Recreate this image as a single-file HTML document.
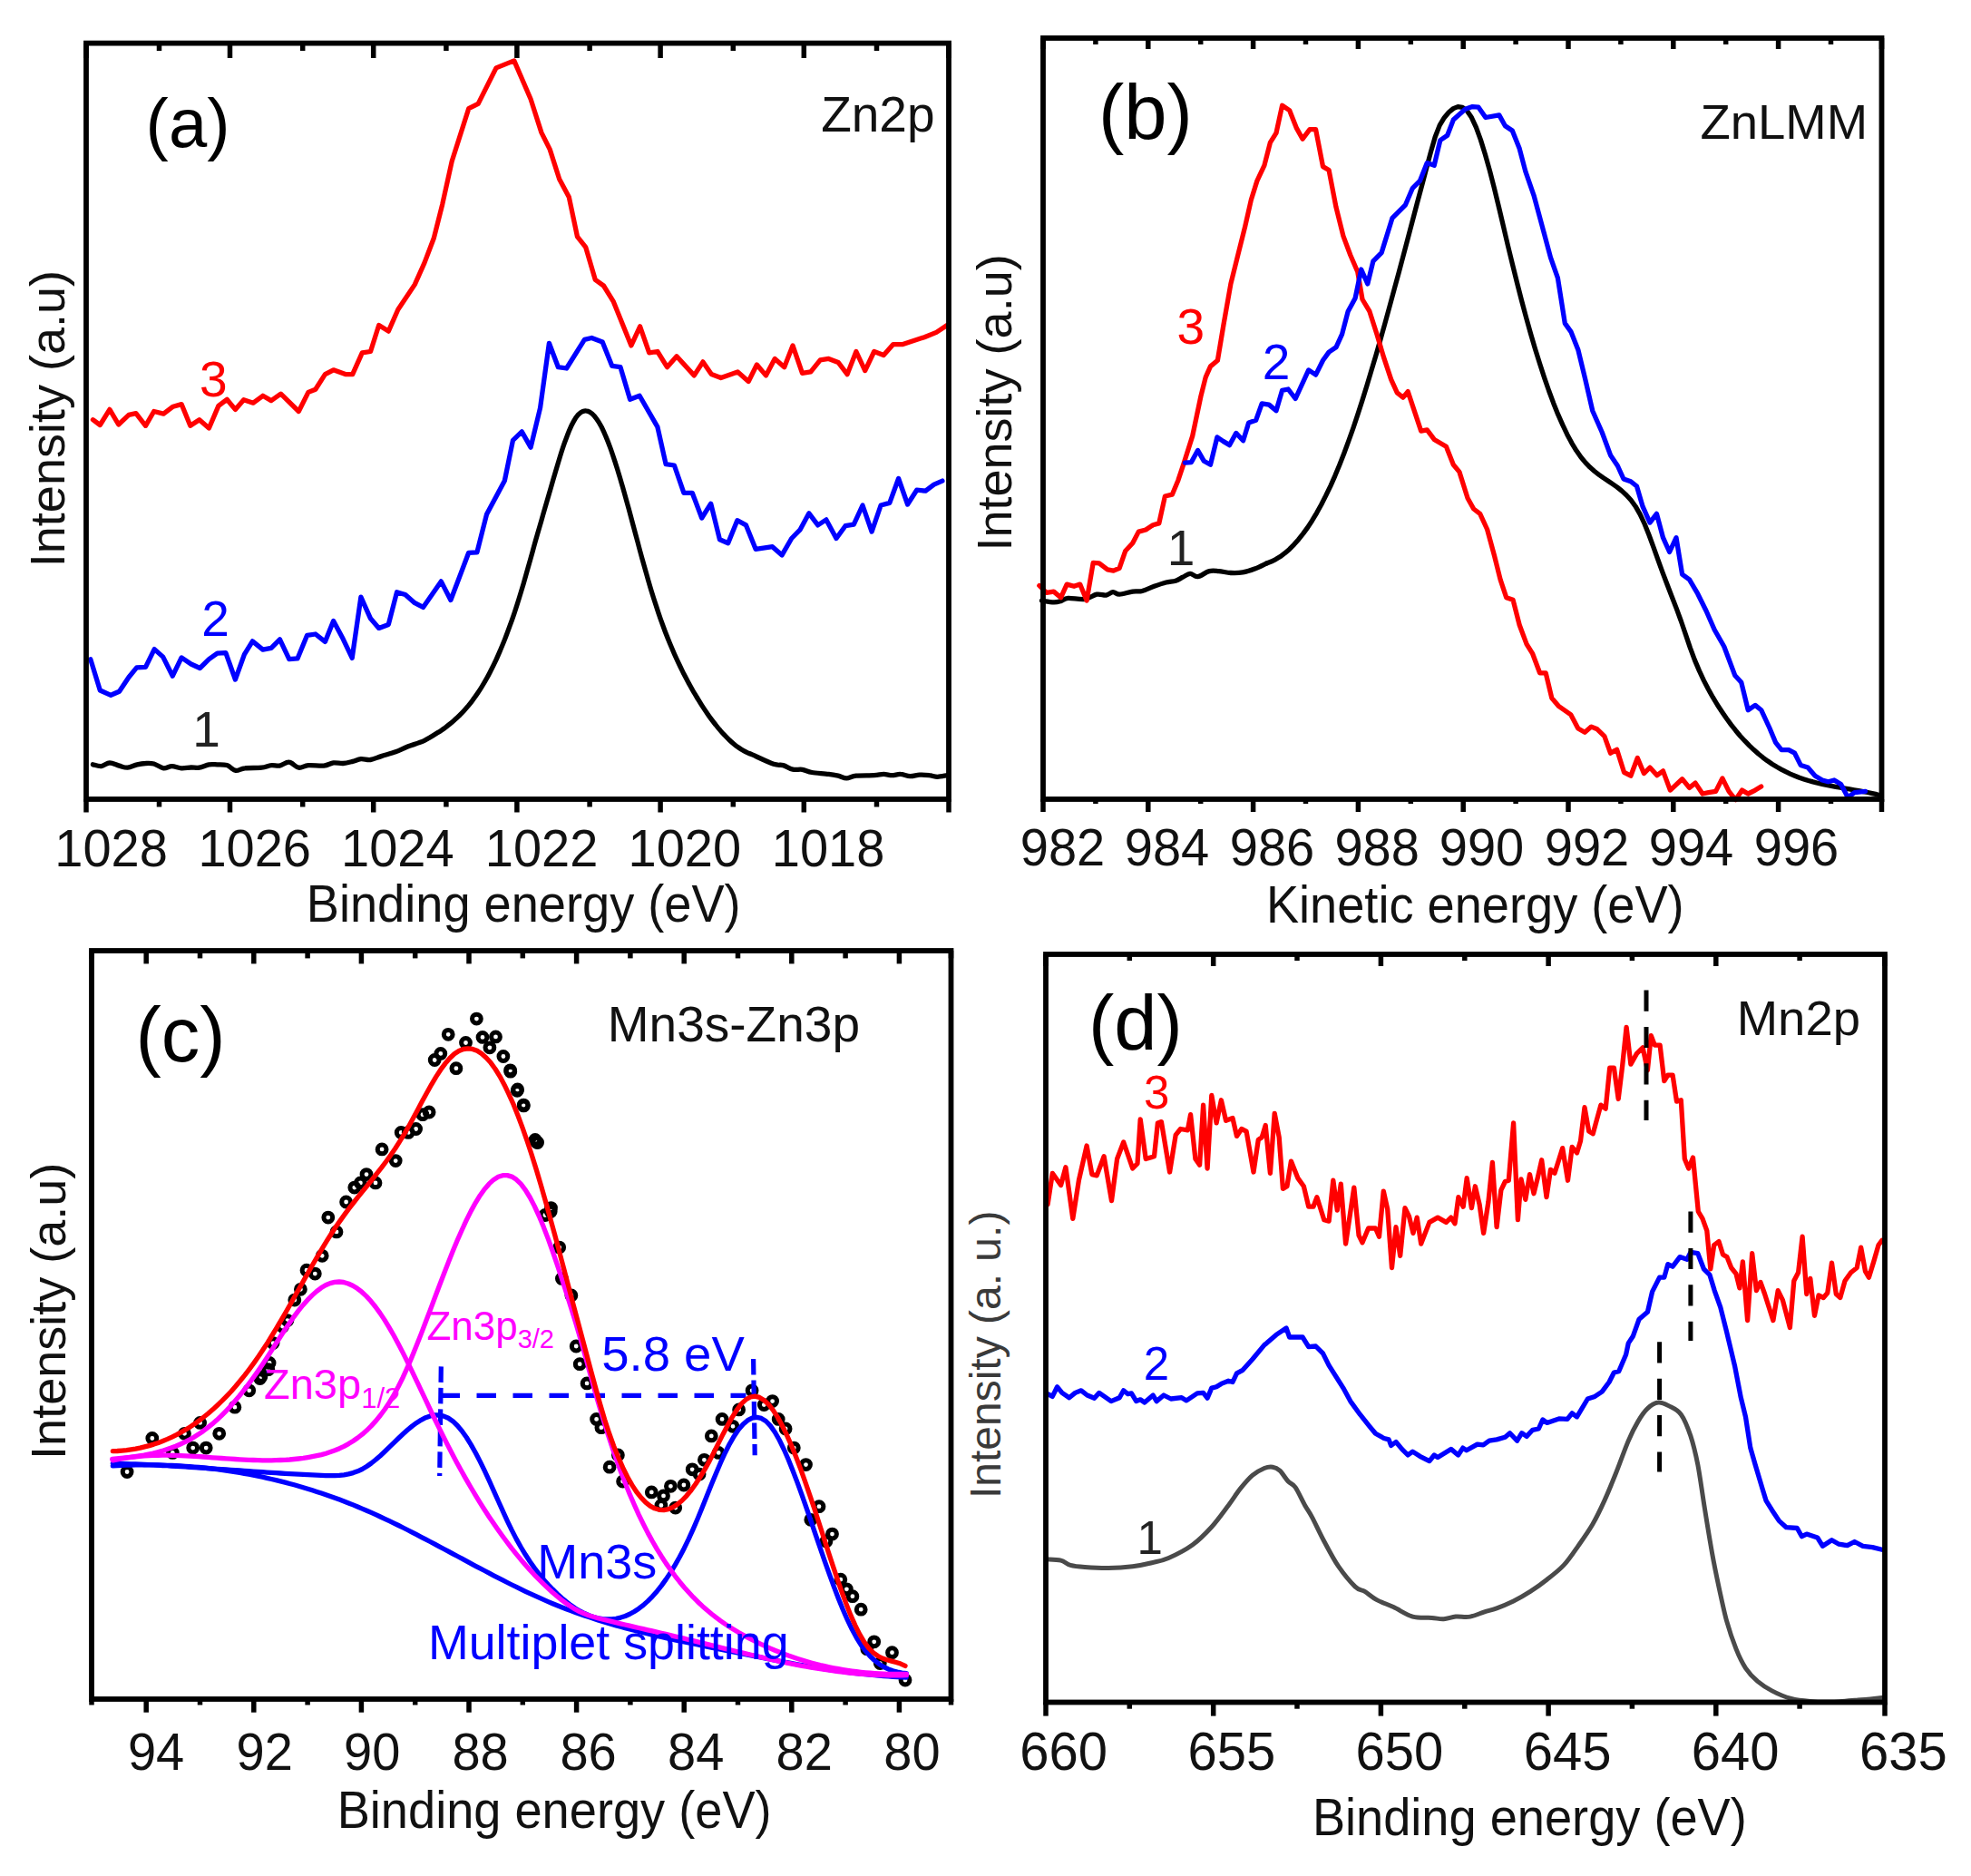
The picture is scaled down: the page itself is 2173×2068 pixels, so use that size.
<!DOCTYPE html>
<html lang="en"><head><meta charset="utf-8"><title>XPS spectra</title>
<style>
html,body{margin:0;padding:0;background:#fff;}
body{width:2173px;height:2068px;overflow:hidden;}
svg{display:block;}
</style></head><body>
<svg width="2173" height="2068" viewBox="0 0 2173 2068" font-family='"Liberation Sans", sans-serif'><rect width="2173" height="2068" fill="#fff"/><g id="pa">
<path d="M102.4,842.8C104.0,843.1 108.6,845.0 111.7,844.6C114.7,844.3 117.6,841.0 120.9,840.9C124.2,840.9 128.2,843.2 131.5,844.1C134.7,845.0 137.4,846.4 140.7,846.2C144.0,846.0 147.9,843.6 151.2,842.8C154.5,842.0 157.4,841.6 160.5,841.5C163.6,841.3 166.4,841.1 169.7,842.0C173.0,842.9 177.0,846.3 180.3,846.8C183.6,847.2 186.2,844.6 189.5,844.6C192.8,844.6 196.5,846.5 200.1,846.8C203.6,847.0 207.3,846.1 210.6,846.0C213.9,845.9 216.5,846.8 219.8,846.2C223.1,845.7 227.1,843.4 230.4,842.8C233.7,842.2 236.3,842.7 239.6,842.8C242.9,842.9 246.8,842.5 250.2,843.6C253.6,844.7 256.6,848.9 259.9,849.4C263.2,849.9 265.2,847.3 270.0,846.8C274.7,846.2 283.6,846.8 288.4,846.2C293.3,845.7 295.7,843.9 299.0,843.6C302.3,843.2 304.9,844.7 308.2,844.1C311.5,843.5 315.3,839.8 318.8,840.2C322.3,840.5 325.8,845.7 329.3,846.2C332.9,846.8 335.3,843.9 339.9,843.6C344.5,843.2 352.4,844.6 357.0,844.1C361.7,843.7 364.1,841.4 367.6,840.9C371.1,840.5 374.6,841.7 378.2,841.5C381.7,841.2 385.4,840.2 388.7,839.4C392.0,838.6 394.6,837.0 397.9,836.7C401.2,836.4 404.8,838.0 408.5,837.5C412.2,837.0 415.8,835.0 420.4,833.6C425.0,832.1 431.4,830.6 436.2,828.8C441.0,827.1 444.1,825.1 449.4,823.0C454.7,820.9 461.7,819.3 467.9,816.4C474.0,813.5 482.2,807.8 486.1,805.4C490.0,803.0 489.5,803.1 491.2,801.8C492.8,800.6 494.5,799.3 496.2,797.9C497.9,796.6 499.6,795.1 501.2,793.6C502.9,792.1 504.6,790.6 506.3,788.9C508.0,787.2 509.7,785.5 511.3,783.7C513.0,781.8 514.7,779.9 516.4,777.9C518.1,775.8 519.8,773.7 521.4,771.4C523.1,769.2 524.8,766.8 526.5,764.3C528.2,761.8 529.9,759.2 531.5,756.5C533.2,753.7 534.9,750.9 536.6,747.8C538.3,744.8 539.9,741.6 541.6,738.3C543.3,735.0 545.0,731.5 546.7,727.9C548.4,724.3 550.0,720.5 551.7,716.5C553.4,712.5 555.1,708.4 556.8,704.1C558.5,699.8 560.1,695.4 561.8,690.7C563.5,686.1 565.2,681.3 566.9,676.3C568.6,671.3 570.2,666.1 571.9,660.7C573.6,655.3 575.3,649.7 577.0,644.0C578.6,638.3 580.3,632.3 582.0,626.3C583.7,620.4 585.4,614.2 587.1,608.2C588.7,602.2 590.4,596.2 592.1,590.3C593.8,584.3 595.5,578.5 597.2,572.7C598.8,566.8 600.5,561.0 602.2,555.2C603.9,549.4 605.6,543.6 607.3,537.8C608.9,532.1 610.6,526.2 612.3,520.5C614.0,514.8 615.7,509.1 617.3,503.7C619.0,498.3 620.7,493.0 622.4,488.2C624.1,483.5 625.8,478.9 627.4,474.9C629.1,470.9 630.8,467.3 632.5,464.4C634.2,461.4 635.9,458.9 637.5,457.1C639.2,455.3 640.9,454.1 642.6,453.4C644.3,452.8 646.0,452.7 647.6,453.2C649.3,453.6 651.0,454.6 652.7,456.0C654.4,457.4 656.0,459.4 657.7,461.8C659.4,464.1 661.1,466.9 662.8,470.1C664.5,473.3 666.1,477.0 667.8,480.9C669.5,484.9 671.2,489.2 672.9,493.8C674.6,498.4 676.2,503.4 677.9,508.6C679.6,513.8 681.3,519.2 683.0,524.9C684.7,530.5 686.3,536.4 688.0,542.3C689.7,548.2 691.4,554.4 693.1,560.5C694.7,566.7 696.4,573.0 698.1,579.3C699.8,585.5 701.5,591.9 703.2,598.1C704.8,604.4 706.5,610.6 708.2,616.7C709.9,622.9 711.6,628.9 713.3,634.8C714.9,640.7 716.6,646.4 718.3,652.0C720.0,657.5 721.7,662.8 723.4,667.9C725.0,673.1 726.7,678.0 728.4,682.8C730.1,687.5 731.8,692.1 733.4,696.5C735.1,700.9 736.8,705.1 738.5,709.2C740.2,713.3 741.9,717.2 743.5,721.0C745.2,724.8 746.9,728.5 748.6,732.0C750.3,735.6 752.0,739.0 753.6,742.3C755.3,745.6 757.0,748.8 758.7,751.9C760.4,755.0 762.1,758.0 763.7,761.0C765.4,763.9 767.1,766.7 768.8,769.5C770.5,772.3 772.1,775.0 773.8,777.6C775.5,780.2 777.2,782.8 778.9,785.2C780.6,787.7 782.2,790.1 783.9,792.4C785.6,794.7 787.3,796.9 789.0,799.0C790.7,801.2 792.3,803.2 794.0,805.1C795.7,807.1 797.4,809.0 799.1,810.7C800.8,812.5 802.4,814.2 804.1,815.7C805.8,817.3 807.5,818.8 809.2,820.2C810.8,821.6 812.5,822.9 814.2,824.0C815.9,825.2 817.6,826.3 819.3,827.3C820.9,828.3 822.6,829.1 824.3,829.9C826.0,830.7 824.6,829.8 829.4,831.9C834.1,834.0 847.2,840.3 852.9,842.3C858.6,844.2 859.9,842.6 863.4,843.6C866.9,844.6 870.5,847.3 874.0,848.1C877.5,848.9 881.0,847.8 884.5,848.3C888.1,848.9 890.3,850.7 895.1,851.5C899.9,852.3 908.7,852.7 913.6,853.4C918.4,854.0 920.8,854.5 924.1,855.2C927.4,855.9 930.1,857.8 933.4,857.8C936.6,857.8 938.8,855.7 943.9,855.2C949.0,854.7 958.6,855.0 963.7,854.7C968.8,854.4 970.9,853.4 974.2,853.4C977.5,853.4 980.4,854.7 983.5,854.7C986.6,854.7 989.4,853.2 992.7,853.4C996.0,853.5 999.8,855.6 1003.3,855.7C1006.8,855.9 1010.3,854.3 1013.8,854.1C1017.3,854.0 1021.1,854.3 1024.4,854.7C1027.7,855.0 1030.3,856.3 1033.6,856.3C1036.9,856.3 1042.4,854.9 1044.2,854.7" fill="none" stroke="#000" stroke-width="5.3" stroke-linejoin="round" stroke-linecap="round" />
<polyline points="99.8,726.7 110.3,761.0 122.2,766.3 131.5,762.3 142.0,746.5 150.7,735.9 160.5,735.4 170.2,715.6 179.7,724.1 190.3,745.2 200.1,724.9 210.6,732.0 220.4,736.5 230.4,726.7 239.6,720.1 248.9,719.6 259.4,749.1 269.4,721.4 278.4,706.9 289.8,716.1 299.0,714.3 308.5,704.8 318.8,726.7 328.0,725.9 338.6,700.3 347.8,699.0 358.4,707.4 367.6,684.5 378.2,704.3 388.2,725.4 397.9,658.1 408.5,681.8 417.7,692.4 428.3,688.4 437.5,652.8 446.8,655.5 457.3,664.7 466.5,669.4 486.3,640.9 496.9,661.5 516.7,609.3 525.9,608.8 536.5,567.1 556.3,530.1 565.5,485.3 575.3,475.9 585.1,493.1 595.6,449.5 605.4,378.3 615.4,404.7 624.6,406.0 644.4,374.3 652.3,372.5 664.2,377.0 674.8,403.4 684.0,404.7 694.6,440.3 705.1,436.3 724.9,470.6 734.1,511.7 743.4,513.0 753.9,543.3 763.2,543.3 773.7,571.0 783.7,555.2 793.5,594.8 802.7,598.7 812.8,573.7 822.5,578.9 833.1,605.3 851.6,602.7 862.1,611.9 872.7,593.5 881.9,584.2 891.9,565.8 901.7,578.9 910.9,572.9 922.0,593.5 932.0,579.7 941.3,578.2 951.0,557.0 961.1,586.1 971.1,557.0 980.8,554.4 990.6,527.5 1000.6,556.0 1010.7,540.2 1020.4,541.2 1029.7,534.1 1038.9,530.1" fill="none" stroke="#0000ff" stroke-width="5.3" stroke-linejoin="round" stroke-linecap="round" />
<polyline points="102.4,462.7 110.3,468.5 120.9,451.4 130.7,468.0 142.0,457.4 149.9,455.6 160.5,469.3 169.7,453.5 180.3,456.1 190.8,448.2 200.1,445.6 209.8,469.3 219.8,462.7 230.4,472.0 240.9,447.4 250.2,440.3 259.4,451.4 268.7,440.8 279.2,444.2 289.8,436.3 299.0,441.6 309.6,434.2 329.3,453.5 339.9,432.4 347.8,429.2 358.4,412.6 367.6,407.8 380.8,412.6 388.7,412.6 399.3,388.8 408.5,387.5 417.7,358.5 428.3,365.1 438.8,341.3 457.3,313.6 467.9,289.9 478.4,262.2 487.7,225.3 498.2,177.8 516.7,119.7 527.2,114.4 547.0,74.9 566.8,66.9 585.1,109.2 596.9,146.1 606.2,164.6 616.7,197.5 627.3,217.3 636.5,260.9 645.8,272.7 656.3,308.4 665.5,315.0 676.1,332.1 695.9,380.9 705.6,359.8 715.7,388.8 724.9,387.5 735.5,404.7 746.0,392.8 765.3,413.9 775.0,398.9 784.3,412.6 794.8,416.5 813.3,409.9 825.2,420.5 834.4,402.0 844.4,413.9 854.2,395.4 864.7,404.7 874.0,380.9 884.5,411.3 893.8,409.9 904.3,396.8 913.6,395.4 924.1,399.4 934.1,412.6 943.9,387.5 953.7,408.6 963.7,387.5 974.2,391.5 984.8,379.6 995.4,379.6 1019.1,371.7 1032.3,366.4 1044.2,358.5" fill="none" stroke="#ff0000" stroke-width="5.3" stroke-linejoin="round" stroke-linecap="round" />
<rect x="95.0" y="47.6" width="951.0" height="833.4" fill="none" stroke="#000" stroke-width="5.8"/>
<line x1="95.0" y1="47.6" x2="95.0" y2="64.0" stroke="#000" stroke-width="5.5" /><line x1="95.0" y1="881.0" x2="95.0" y2="895.5" stroke="#000" stroke-width="5.5" /><line x1="253.5" y1="47.6" x2="253.5" y2="64.0" stroke="#000" stroke-width="5.5" /><line x1="253.5" y1="881.0" x2="253.5" y2="895.5" stroke="#000" stroke-width="5.5" /><line x1="411.7" y1="47.6" x2="411.7" y2="64.0" stroke="#000" stroke-width="5.5" /><line x1="411.7" y1="881.0" x2="411.7" y2="895.5" stroke="#000" stroke-width="5.5" /><line x1="569.9" y1="47.6" x2="569.9" y2="64.0" stroke="#000" stroke-width="5.5" /><line x1="569.9" y1="881.0" x2="569.9" y2="895.5" stroke="#000" stroke-width="5.5" /><line x1="728.1" y1="47.6" x2="728.1" y2="64.0" stroke="#000" stroke-width="5.5" /><line x1="728.1" y1="881.0" x2="728.1" y2="895.5" stroke="#000" stroke-width="5.5" /><line x1="886.3" y1="47.6" x2="886.3" y2="64.0" stroke="#000" stroke-width="5.5" /><line x1="886.3" y1="881.0" x2="886.3" y2="895.5" stroke="#000" stroke-width="5.5" /><line x1="1046.0" y1="47.6" x2="1046.0" y2="64.0" stroke="#000" stroke-width="5.5" /><line x1="1046.0" y1="881.0" x2="1046.0" y2="895.5" stroke="#000" stroke-width="5.5" /><line x1="175.5" y1="47.6" x2="175.5" y2="56.0" stroke="#000" stroke-width="5.5" /><line x1="175.5" y1="881.0" x2="175.5" y2="889.5" stroke="#000" stroke-width="5.5" /><line x1="333.7" y1="47.6" x2="333.7" y2="56.0" stroke="#000" stroke-width="5.5" /><line x1="333.7" y1="881.0" x2="333.7" y2="889.5" stroke="#000" stroke-width="5.5" /><line x1="491.9" y1="47.6" x2="491.9" y2="56.0" stroke="#000" stroke-width="5.5" /><line x1="491.9" y1="881.0" x2="491.9" y2="889.5" stroke="#000" stroke-width="5.5" /><line x1="650.1" y1="47.6" x2="650.1" y2="56.0" stroke="#000" stroke-width="5.5" /><line x1="650.1" y1="881.0" x2="650.1" y2="889.5" stroke="#000" stroke-width="5.5" /><line x1="808.3" y1="47.6" x2="808.3" y2="56.0" stroke="#000" stroke-width="5.5" /><line x1="808.3" y1="881.0" x2="808.3" y2="889.5" stroke="#000" stroke-width="5.5" /><line x1="966.5" y1="47.6" x2="966.5" y2="56.0" stroke="#000" stroke-width="5.5" /><line x1="966.5" y1="881.0" x2="966.5" y2="889.5" stroke="#000" stroke-width="5.5" />
<text transform="translate(60.3,954.8) scale(1,1.040)" font-size="56.0" fill="#111" >1028</text>
<text transform="translate(218.4,954.8) scale(1,1.040)" font-size="56.0" fill="#111" >1026</text>
<text transform="translate(376.0,954.8) scale(1,1.040)" font-size="56.0" fill="#111" >1024</text>
<text transform="translate(534.8,954.8) scale(1,1.040)" font-size="56.0" fill="#111" >1022</text>
<text transform="translate(692.5,954.8) scale(1,1.040)" font-size="56.0" fill="#111" >1020</text>
<text transform="translate(850.8,954.8) scale(1,1.040)" font-size="56.0" fill="#111" >1018</text>
<text transform="translate(337.8,1015.8) scale(1,1.060)" font-size="54.2" fill="#111" >Binding energy (eV)</text>
<text transform="translate(70.7,460.8) rotate(-90)" x="-164.4" y="0" font-size="54.0" fill="#111" >Intensity (a.u)</text>
<text x="160.6" y="161.5" font-size="76.0" fill="#000" >(a)</text>
<text x="905.2" y="144.5" font-size="55.0" fill="#111" >Zn2p</text>
<text x="219.9" y="437.2" font-size="55.0" fill="#ff0000" >3</text>
<text x="222.3" y="701.0" font-size="55.0" fill="#0000ff" >2</text>
<text x="212.3" y="822.5" font-size="55.0" fill="#222" >1</text>
</g>
<g id="pb">
<path d="M1148.5,662.1C1150.7,662.4 1158.1,663.8 1161.7,663.9C1165.2,664.0 1166.9,663.4 1169.6,662.6C1172.2,661.9 1173.1,659.8 1177.5,659.4C1181.9,659.1 1190.7,661.2 1196.0,660.5C1201.2,659.8 1205.2,656.0 1209.2,655.2C1213.1,654.5 1216.7,656.5 1219.7,656.0C1222.7,655.6 1224.7,652.7 1227.1,652.6C1229.5,652.5 1230.6,655.3 1234.2,655.2C1237.8,655.1 1244.6,652.7 1248.7,652.1C1252.9,651.4 1255.3,652.5 1259.3,651.5C1263.2,650.6 1268.1,647.8 1272.5,646.3C1276.9,644.7 1281.7,643.0 1285.7,642.0C1289.6,641.0 1293.1,641.2 1296.2,640.2C1299.3,639.2 1301.5,637.5 1304.1,636.2C1306.8,634.9 1309.3,632.4 1312.1,632.3C1314.8,632.2 1317.0,636.1 1320.5,635.7C1324.0,635.3 1329.3,630.6 1333.2,629.6C1337.0,628.6 1339.8,629.3 1343.7,629.6C1347.7,629.9 1352.5,631.3 1356.9,631.5C1361.3,631.7 1365.7,631.7 1370.1,630.9C1374.5,630.2 1378.9,628.7 1383.3,627.0C1387.7,625.3 1394.3,621.9 1396.5,620.9" fill="none" stroke="#000" stroke-width="5.3" stroke-linejoin="round" stroke-linecap="round" />
<polyline points="1396.5,621.0 1401.5,619.1 1406.5,616.6 1411.5,613.5 1416.6,609.7 1421.6,605.4 1426.6,600.3 1431.6,594.7 1436.6,588.4 1441.7,581.4 1446.7,573.7 1451.7,565.3 1456.7,556.2 1461.7,546.4 1466.8,535.8 1471.8,524.6 1476.8,512.5 1481.8,499.7 1486.8,486.2 1491.9,471.9 1496.9,456.9 1501.9,441.4 1506.9,425.2 1511.9,408.6 1517.0,391.5 1522.0,374.0 1527.0,356.1 1532.0,337.9 1537.0,319.4 1542.1,300.8 1547.1,281.9 1552.1,263.0 1557.1,244.0 1562.1,225.0 1567.2,206.0 1572.2,187.1 1577.2,168.4 1582.2,151.0 1587.2,138.1 1592.3,129.7 1597.3,123.8 1602.3,119.6 1607.3,117.6 1612.3,118.3 1617.4,122.2 1622.4,129.6 1627.4,140.4 1632.4,154.1 1637.4,170.3 1642.5,188.4 1647.5,207.9 1652.5,228.5 1657.5,249.7 1662.5,271.0 1667.6,291.8 1672.6,312.0 1677.6,331.5 1682.6,350.1 1687.6,368.0 1692.6,385.1 1697.7,401.3 1702.7,416.6 1707.7,431.0 1712.7,444.4 1717.7,456.9 1722.8,468.4 1727.8,478.9 1732.8,488.3 1737.8,496.6 1742.8,503.8 1747.9,509.9 1752.9,515.1 1757.9,519.5 1762.9,523.3 1767.9,526.9 1773.0,530.2 1778.0,533.6 1783.0,537.1 1788.0,541.1 1793.0,545.7 1798.1,551.3 1803.1,558.2 1808.1,566.8 1813.1,577.5 1818.1,590.0 1823.2,603.8 1828.2,617.9 1833.2,631.6 1838.2,644.8 1843.2,657.8 1848.3,670.9 1853.3,684.5 1858.3,699.1 1863.3,713.9 1868.3,727.4 1873.4,739.4 1878.4,750.1 1883.4,759.8 1888.4,768.7 1893.4,777.0 1898.5,784.7 1903.5,792.0 1908.5,798.9 1913.5,805.2 1918.5,811.2 1923.6,816.7 1928.6,821.8 1933.6,826.6 1938.6,831.0 1943.6,835.0 1948.7,838.8 1953.7,842.2 1958.7,845.3 1963.7,848.1 1968.7,850.7 1973.7,853.1 1978.8,855.2 1983.8,857.2 1988.8,858.9 1993.8,860.5 1998.8,861.9 2003.9,863.2 2008.9,864.3 2013.9,865.4 2018.9,866.4 2023.9,867.3 2029.0,868.2 2034.0,869.1 2039.0,869.9 2044.0,870.8 2049.0,871.6 2054.1,872.6 2059.1,873.5 2064.1,874.6 2069.1,875.7 2074.1,877.0" fill="none" stroke="#000" stroke-width="5.3" stroke-linejoin="round" stroke-linecap="round" />
<polyline points="1145.8,645.5 1153.7,653.4 1161.7,652.1 1169.6,658.7 1176.2,644.1 1184.1,646.3 1190.7,644.1 1198.1,662.1 1205.2,620.4 1211.8,620.9 1221.0,627.8 1227.6,629.1 1234.2,626.2 1240.8,607.2 1248.7,598.8 1255.3,586.1 1263.2,584.0 1271.2,578.7 1277.8,576.9 1284.4,547.0 1292.3,545.2 1298.9,529.4 1305.5,509.6 1314.7,480.6 1323.9,436.9 1329.2,415.8 1334.5,403.9 1342.4,397.3 1349.0,357.7 1356.9,312.9 1364.8,281.2 1372.7,249.6 1379.3,220.5 1385.9,199.4 1393.9,182.3 1400.4,157.2 1407.0,146.6 1413.6,116.3 1421.6,121.6 1429.5,141.4 1436.1,153.2 1444.0,142.7 1450.6,142.7 1458.5,183.6 1465.1,187.5 1473.0,228.4 1480.9,260.1 1488.8,281.2 1496.8,299.7 1502.0,330.0 1509.9,343.2 1517.9,368.3 1525.8,394.7 1533.7,418.4 1540.3,432.9 1546.9,438.2 1552.2,431.6 1560.1,455.4 1566.7,475.1 1573.3,473.8 1581.2,484.4 1594.4,492.3 1602.3,512.2 1608.9,520.1 1618.1,549.2 1624.7,561.0 1631.7,566.3 1639.6,583.5 1647.5,612.5 1654.1,638.9 1660.7,658.7 1668.1,661.3 1675.2,689.0 1683.1,710.1 1689.7,720.7 1697.6,741.8 1704.2,741.8 1710.8,769.5 1718.7,778.7 1731.9,787.9 1739.8,803.0 1747.2,807.2 1754.4,801.1 1760.9,803.8 1768.9,811.7 1775.5,830.2 1782.6,826.2 1790.5,851.3 1797.9,855.2 1805.3,835.4 1812.4,852.6 1819.0,846.0 1826.9,854.7 1833.5,849.9 1841.4,871.1 1854.6,858.7 1862.5,868.4 1869.1,863.1 1877.0,875.0 1883.6,873.7 1891.6,872.4 1898.9,857.9 1906.1,872.4 1913.5,881.6 1920.6,871.1 1927.2,875.0 1935.1,871.1 1941.7,867.1" fill="none" stroke="#ff0000" stroke-width="5.3" stroke-linejoin="round" stroke-linecap="round" />
<polyline points="1306.3,510.1 1313.4,509.6 1320.5,496.4 1327.4,508.3 1334.5,512.2 1341.9,481.9 1348.5,486.4 1355.6,490.6 1362.7,477.4 1370.6,485.8 1376.7,465.9 1384.6,463.3 1391.2,444.8 1399.1,446.1 1407.0,452.7 1413.6,430.3 1420.2,429.0 1428.2,439.5 1442.7,407.9 1450.6,413.1 1458.5,397.3 1465.1,388.1 1473.0,382.8 1479.6,368.3 1486.2,343.2 1494.1,328.7 1500.7,297.0 1507.8,312.9 1513.9,287.8 1523.1,278.6 1535.0,240.3 1549.5,225.8 1557.4,207.3 1565.4,199.4 1573.3,179.6 1581.2,182.3 1587.8,154.6 1595.7,149.3 1602.3,132.1 1615.5,120.3 1623.4,117.6 1630.0,118.2 1637.9,129.5 1652.8,126.9 1659.4,138.7 1667.3,144.0 1675.2,163.8 1681.8,188.9 1691.0,215.3 1700.3,249.6 1709.5,283.9 1717.4,306.3 1725.3,356.4 1731.9,365.6 1739.8,385.4 1747.8,418.4 1755.7,452.7 1766.2,476.5 1775.5,501.7 1783.4,513.5 1790.0,528.0 1797.9,530.7 1804.5,536.0 1811.1,558.4 1819.0,576.1 1826.4,566.3 1833.5,592.7 1840.6,608.5 1848.0,592.7 1854.6,633.1 1862.5,638.9 1871.8,654.7 1881.0,673.2 1890.2,694.3 1900.8,712.7 1912.7,744.4 1919.8,752.3 1927.2,782.7 1935.1,777.4 1941.7,782.7 1950.9,802.5 1957.5,818.3 1964.1,826.7 1972.0,826.7 1978.6,830.2 1985.2,843.4 1993.1,846.0 2001.1,855.2 2009.0,860.0 2015.6,861.8 2022.2,860.0 2029.6,864.5 2037.2,879.0 2044.6,873.7 2056.5,872.4" fill="none" stroke="#0000ff" stroke-width="5.3" stroke-linejoin="round" stroke-linecap="round" />
<rect x="1150.0" y="42.0" width="924.5" height="839.0" fill="none" stroke="#000" stroke-width="5.8"/>
<line x1="1150.0" y1="42.0" x2="1150.0" y2="54.0" stroke="#000" stroke-width="5.5" /><line x1="1150.0" y1="881.0" x2="1150.0" y2="895.0" stroke="#000" stroke-width="5.5" /><line x1="1265.8" y1="42.0" x2="1265.8" y2="54.0" stroke="#000" stroke-width="5.5" /><line x1="1265.8" y1="881.0" x2="1265.8" y2="895.0" stroke="#000" stroke-width="5.5" /><line x1="1381.6" y1="42.0" x2="1381.6" y2="54.0" stroke="#000" stroke-width="5.5" /><line x1="1381.6" y1="881.0" x2="1381.6" y2="895.0" stroke="#000" stroke-width="5.5" /><line x1="1497.4" y1="42.0" x2="1497.4" y2="54.0" stroke="#000" stroke-width="5.5" /><line x1="1497.4" y1="881.0" x2="1497.4" y2="895.0" stroke="#000" stroke-width="5.5" /><line x1="1613.2" y1="42.0" x2="1613.2" y2="54.0" stroke="#000" stroke-width="5.5" /><line x1="1613.2" y1="881.0" x2="1613.2" y2="895.0" stroke="#000" stroke-width="5.5" /><line x1="1729.0" y1="42.0" x2="1729.0" y2="54.0" stroke="#000" stroke-width="5.5" /><line x1="1729.0" y1="881.0" x2="1729.0" y2="895.0" stroke="#000" stroke-width="5.5" /><line x1="1844.8" y1="42.0" x2="1844.8" y2="54.0" stroke="#000" stroke-width="5.5" /><line x1="1844.8" y1="881.0" x2="1844.8" y2="895.0" stroke="#000" stroke-width="5.5" /><line x1="1960.6" y1="42.0" x2="1960.6" y2="54.0" stroke="#000" stroke-width="5.5" /><line x1="1960.6" y1="881.0" x2="1960.6" y2="895.0" stroke="#000" stroke-width="5.5" /><line x1="2074.5" y1="42.0" x2="2074.5" y2="54.0" stroke="#000" stroke-width="5.5" /><line x1="2074.5" y1="881.0" x2="2074.5" y2="895.0" stroke="#000" stroke-width="5.5" /><line x1="1207.9" y1="42.0" x2="1207.9" y2="49.0" stroke="#000" stroke-width="5.5" /><line x1="1207.9" y1="881.0" x2="1207.9" y2="886.0" stroke="#000" stroke-width="5.5" /><line x1="1323.7" y1="42.0" x2="1323.7" y2="49.0" stroke="#000" stroke-width="5.5" /><line x1="1323.7" y1="881.0" x2="1323.7" y2="886.0" stroke="#000" stroke-width="5.5" /><line x1="1439.5" y1="42.0" x2="1439.5" y2="49.0" stroke="#000" stroke-width="5.5" /><line x1="1439.5" y1="881.0" x2="1439.5" y2="886.0" stroke="#000" stroke-width="5.5" /><line x1="1555.3" y1="42.0" x2="1555.3" y2="49.0" stroke="#000" stroke-width="5.5" /><line x1="1555.3" y1="881.0" x2="1555.3" y2="886.0" stroke="#000" stroke-width="5.5" /><line x1="1671.1" y1="42.0" x2="1671.1" y2="49.0" stroke="#000" stroke-width="5.5" /><line x1="1671.1" y1="881.0" x2="1671.1" y2="886.0" stroke="#000" stroke-width="5.5" /><line x1="1786.9" y1="42.0" x2="1786.9" y2="49.0" stroke="#000" stroke-width="5.5" /><line x1="1786.9" y1="881.0" x2="1786.9" y2="886.0" stroke="#000" stroke-width="5.5" /><line x1="1902.7" y1="42.0" x2="1902.7" y2="49.0" stroke="#000" stroke-width="5.5" /><line x1="1902.7" y1="881.0" x2="1902.7" y2="886.0" stroke="#000" stroke-width="5.5" /><line x1="2018.5" y1="42.0" x2="2018.5" y2="49.0" stroke="#000" stroke-width="5.5" /><line x1="2018.5" y1="881.0" x2="2018.5" y2="886.0" stroke="#000" stroke-width="5.5" />
<text transform="translate(1124.8,953.8) scale(1,1.040)" font-size="56.0" fill="#111" >982</text>
<text transform="translate(1239.8,953.8) scale(1,1.040)" font-size="56.0" fill="#111" >984</text>
<text transform="translate(1355.8,953.8) scale(1,1.040)" font-size="56.0" fill="#111" >986</text>
<text transform="translate(1471.4,953.8) scale(1,1.040)" font-size="56.0" fill="#111" >988</text>
<text transform="translate(1586.8,953.8) scale(1,1.040)" font-size="56.0" fill="#111" >990</text>
<text transform="translate(1702.8,953.8) scale(1,1.040)" font-size="56.0" fill="#111" >992</text>
<text transform="translate(1817.8,953.8) scale(1,1.040)" font-size="56.0" fill="#111" >994</text>
<text transform="translate(1933.8,953.8) scale(1,1.040)" font-size="56.0" fill="#111" >996</text>
<text transform="translate(1395.9,1016.5) scale(1,1.060)" font-size="54.2" fill="#111" >Kinetic energy (eV)</text>
<text transform="translate(1115.0,443.1) rotate(-90)" x="-164.4" y="0" font-size="54.0" fill="#111" >Intensity (a.u)</text>
<text x="1211.0" y="152.5" font-size="85.0" fill="#000" >(b)</text>
<text x="1874.4" y="152.7" font-size="54.5" fill="#111" >ZnLMM</text>
<text x="1297.6" y="378.5" font-size="55.0" fill="#ff0000" >3</text>
<text x="1391.7" y="417.5" font-size="55.0" fill="#0000ff" >2</text>
<text x="1286.8" y="622.5" font-size="55.0" fill="#222" >1</text>
</g>
<g id="pc">
<circle cx="525.4" cy="1123.1" r="4.9" fill="none" stroke="#000" stroke-width="5"/>
<circle cx="494.2" cy="1140.3" r="4.9" fill="none" stroke="#000" stroke-width="5"/>
<circle cx="513.5" cy="1149.5" r="4.9" fill="none" stroke="#000" stroke-width="5"/>
<circle cx="532.0" cy="1143.4" r="4.9" fill="none" stroke="#000" stroke-width="5"/>
<circle cx="546.5" cy="1142.9" r="4.9" fill="none" stroke="#000" stroke-width="5"/>
<circle cx="539.9" cy="1154.8" r="4.9" fill="none" stroke="#000" stroke-width="5"/>
<circle cx="554.9" cy="1164.5" r="4.9" fill="none" stroke="#000" stroke-width="5"/>
<circle cx="485.8" cy="1161.4" r="4.9" fill="none" stroke="#000" stroke-width="5"/>
<circle cx="479.2" cy="1168.5" r="4.9" fill="none" stroke="#000" stroke-width="5"/>
<circle cx="502.9" cy="1177.7" r="4.9" fill="none" stroke="#000" stroke-width="5"/>
<circle cx="562.8" cy="1181.2" r="4.9" fill="none" stroke="#000" stroke-width="5"/>
<circle cx="570.2" cy="1202.3" r="4.9" fill="none" stroke="#000" stroke-width="5"/>
<circle cx="577.3" cy="1218.9" r="4.9" fill="none" stroke="#000" stroke-width="5"/>
<circle cx="473.1" cy="1226.0" r="4.9" fill="none" stroke="#000" stroke-width="5"/>
<circle cx="466.0" cy="1228.7" r="4.9" fill="none" stroke="#000" stroke-width="5"/>
<circle cx="458.6" cy="1244.5" r="4.9" fill="none" stroke="#000" stroke-width="5"/>
<circle cx="442.2" cy="1248.4" r="4.9" fill="none" stroke="#000" stroke-width="5"/>
<circle cx="450.2" cy="1248.4" r="4.9" fill="none" stroke="#000" stroke-width="5"/>
<circle cx="421.1" cy="1266.9" r="4.9" fill="none" stroke="#000" stroke-width="5"/>
<circle cx="436.2" cy="1279.6" r="4.9" fill="none" stroke="#000" stroke-width="5"/>
<circle cx="404.0" cy="1294.6" r="4.9" fill="none" stroke="#000" stroke-width="5"/>
<circle cx="414.0" cy="1303.9" r="4.9" fill="none" stroke="#000" stroke-width="5"/>
<circle cx="390.8" cy="1309.1" r="4.9" fill="none" stroke="#000" stroke-width="5"/>
<circle cx="397.4" cy="1303.9" r="4.9" fill="none" stroke="#000" stroke-width="5"/>
<circle cx="381.6" cy="1325.0" r="4.9" fill="none" stroke="#000" stroke-width="5"/>
<circle cx="361.8" cy="1342.1" r="4.9" fill="none" stroke="#000" stroke-width="5"/>
<circle cx="371.0" cy="1357.9" r="4.9" fill="none" stroke="#000" stroke-width="5"/>
<circle cx="355.2" cy="1384.3" r="4.9" fill="none" stroke="#000" stroke-width="5"/>
<circle cx="347.3" cy="1404.1" r="4.9" fill="none" stroke="#000" stroke-width="5"/>
<circle cx="338.0" cy="1400.2" r="4.9" fill="none" stroke="#000" stroke-width="5"/>
<circle cx="331.4" cy="1421.3" r="4.9" fill="none" stroke="#000" stroke-width="5"/>
<circle cx="324.8" cy="1433.1" r="4.9" fill="none" stroke="#000" stroke-width="5"/>
<circle cx="316.9" cy="1455.6" r="4.9" fill="none" stroke="#000" stroke-width="5"/>
<circle cx="311.6" cy="1462.2" r="4.9" fill="none" stroke="#000" stroke-width="5"/>
<circle cx="301.1" cy="1480.6" r="4.9" fill="none" stroke="#000" stroke-width="5"/>
<circle cx="295.8" cy="1509.7" r="4.9" fill="none" stroke="#000" stroke-width="5"/>
<circle cx="287.9" cy="1517.6" r="4.9" fill="none" stroke="#000" stroke-width="5"/>
<circle cx="590.0" cy="1256.4" r="4.9" fill="none" stroke="#000" stroke-width="5"/>
<circle cx="592.6" cy="1259.5" r="4.9" fill="none" stroke="#000" stroke-width="5"/>
<circle cx="607.2" cy="1335.5" r="4.9" fill="none" stroke="#000" stroke-width="5"/>
<circle cx="562.6" cy="1179.8" r="4.9" fill="none" stroke="#000" stroke-width="5"/>
<circle cx="570.6" cy="1200.9" r="4.9" fill="none" stroke="#000" stroke-width="5"/>
<circle cx="577.2" cy="1218.1" r="4.9" fill="none" stroke="#000" stroke-width="5"/>
<circle cx="591.7" cy="1259.0" r="4.9" fill="none" stroke="#000" stroke-width="5"/>
<circle cx="607.5" cy="1331.6" r="4.9" fill="none" stroke="#000" stroke-width="5"/>
<circle cx="600.9" cy="1339.5" r="4.9" fill="none" stroke="#000" stroke-width="5"/>
<circle cx="616.7" cy="1375.1" r="4.9" fill="none" stroke="#000" stroke-width="5"/>
<circle cx="619.4" cy="1409.4" r="4.9" fill="none" stroke="#000" stroke-width="5"/>
<circle cx="629.9" cy="1427.9" r="4.9" fill="none" stroke="#000" stroke-width="5"/>
<circle cx="635.2" cy="1484.0" r="4.9" fill="none" stroke="#000" stroke-width="5"/>
<circle cx="639.2" cy="1503.7" r="4.9" fill="none" stroke="#000" stroke-width="5"/>
<circle cx="647.1" cy="1524.9" r="4.9" fill="none" stroke="#000" stroke-width="5"/>
<circle cx="657.6" cy="1564.4" r="4.9" fill="none" stroke="#000" stroke-width="5"/>
<circle cx="662.9" cy="1573.7" r="4.9" fill="none" stroke="#000" stroke-width="5"/>
<circle cx="672.1" cy="1617.2" r="4.9" fill="none" stroke="#000" stroke-width="5"/>
<circle cx="681.4" cy="1604.0" r="4.9" fill="none" stroke="#000" stroke-width="5"/>
<circle cx="686.6" cy="1633.0" r="4.9" fill="none" stroke="#000" stroke-width="5"/>
<circle cx="718.3" cy="1644.9" r="4.9" fill="none" stroke="#000" stroke-width="5"/>
<circle cx="731.5" cy="1648.9" r="4.9" fill="none" stroke="#000" stroke-width="5"/>
<circle cx="739.4" cy="1638.3" r="4.9" fill="none" stroke="#000" stroke-width="5"/>
<circle cx="753.9" cy="1637.0" r="4.9" fill="none" stroke="#000" stroke-width="5"/>
<circle cx="763.2" cy="1619.8" r="4.9" fill="none" stroke="#000" stroke-width="5"/>
<circle cx="744.7" cy="1662.1" r="4.9" fill="none" stroke="#000" stroke-width="5"/>
<circle cx="728.9" cy="1659.4" r="4.9" fill="none" stroke="#000" stroke-width="5"/>
<circle cx="771.1" cy="1625.1" r="4.9" fill="none" stroke="#000" stroke-width="5"/>
<circle cx="776.4" cy="1609.3" r="4.9" fill="none" stroke="#000" stroke-width="5"/>
<circle cx="784.3" cy="1582.9" r="4.9" fill="none" stroke="#000" stroke-width="5"/>
<circle cx="792.2" cy="1601.4" r="4.9" fill="none" stroke="#000" stroke-width="5"/>
<circle cx="796.1" cy="1564.4" r="4.9" fill="none" stroke="#000" stroke-width="5"/>
<circle cx="808.0" cy="1572.3" r="4.9" fill="none" stroke="#000" stroke-width="5"/>
<circle cx="814.6" cy="1553.9" r="4.9" fill="none" stroke="#000" stroke-width="5"/>
<circle cx="829.1" cy="1532.8" r="4.9" fill="none" stroke="#000" stroke-width="5"/>
<circle cx="842.3" cy="1548.6" r="4.9" fill="none" stroke="#000" stroke-width="5"/>
<circle cx="851.6" cy="1544.6" r="4.9" fill="none" stroke="#000" stroke-width="5"/>
<circle cx="858.2" cy="1564.4" r="4.9" fill="none" stroke="#000" stroke-width="5"/>
<circle cx="866.1" cy="1575.0" r="4.9" fill="none" stroke="#000" stroke-width="5"/>
<circle cx="875.3" cy="1596.1" r="4.9" fill="none" stroke="#000" stroke-width="5"/>
<circle cx="888.5" cy="1614.6" r="4.9" fill="none" stroke="#000" stroke-width="5"/>
<circle cx="903.0" cy="1660.7" r="4.9" fill="none" stroke="#000" stroke-width="5"/>
<circle cx="893.8" cy="1675.3" r="4.9" fill="none" stroke="#000" stroke-width="5"/>
<circle cx="917.5" cy="1691.1" r="4.9" fill="none" stroke="#000" stroke-width="5"/>
<circle cx="910.9" cy="1699.0" r="4.9" fill="none" stroke="#000" stroke-width="5"/>
<circle cx="926.8" cy="1741.2" r="4.9" fill="none" stroke="#000" stroke-width="5"/>
<circle cx="933.4" cy="1751.8" r="4.9" fill="none" stroke="#000" stroke-width="5"/>
<circle cx="939.9" cy="1759.7" r="4.9" fill="none" stroke="#000" stroke-width="5"/>
<circle cx="949.2" cy="1774.2" r="4.9" fill="none" stroke="#000" stroke-width="5"/>
<circle cx="955.8" cy="1817.7" r="4.9" fill="none" stroke="#000" stroke-width="5"/>
<circle cx="963.7" cy="1809.8" r="4.9" fill="none" stroke="#000" stroke-width="5"/>
<circle cx="970.3" cy="1833.6" r="4.9" fill="none" stroke="#000" stroke-width="5"/>
<circle cx="983.5" cy="1821.7" r="4.9" fill="none" stroke="#000" stroke-width="5"/>
<circle cx="998.0" cy="1852.0" r="4.9" fill="none" stroke="#000" stroke-width="5"/>
<circle cx="140.1" cy="1622.5" r="4.9" fill="none" stroke="#000" stroke-width="5"/>
<circle cx="167.8" cy="1585.5" r="4.9" fill="none" stroke="#000" stroke-width="5"/>
<circle cx="190.3" cy="1601.4" r="4.9" fill="none" stroke="#000" stroke-width="5"/>
<circle cx="212.7" cy="1596.1" r="4.9" fill="none" stroke="#000" stroke-width="5"/>
<circle cx="227.2" cy="1596.1" r="4.9" fill="none" stroke="#000" stroke-width="5"/>
<circle cx="241.7" cy="1580.3" r="4.9" fill="none" stroke="#000" stroke-width="5"/>
<circle cx="220.6" cy="1568.4" r="4.9" fill="none" stroke="#000" stroke-width="5"/>
<circle cx="258.9" cy="1551.2" r="4.9" fill="none" stroke="#000" stroke-width="5"/>
<circle cx="274.7" cy="1532.8" r="4.9" fill="none" stroke="#000" stroke-width="5"/>
<circle cx="286.6" cy="1519.6" r="4.9" fill="none" stroke="#000" stroke-width="5"/>
<circle cx="297.1" cy="1502.4" r="4.9" fill="none" stroke="#000" stroke-width="5"/>
<circle cx="203.5" cy="1580.3" r="4.9" fill="none" stroke="#000" stroke-width="5"/>
<line x1="486.3" y1="1506.4" x2="484.7" y2="1627.0" stroke="#0000ff" stroke-width="5.2" stroke-dasharray="17.5 6"/>
<line x1="485.5" y1="1538.4" x2="822.4" y2="1538.4" stroke="#0000ff" stroke-width="5.2" stroke-dasharray="21.5 18.5"/>
<line x1="830.6" y1="1498.0" x2="832.2" y2="1604.3" stroke="#0000ff" stroke-width="5.2" stroke-dasharray="17.5 6"/>
<polyline points="124.3,1615.8 129.3,1615.6 134.3,1615.3 139.3,1615.2 144.3,1615.0 149.3,1614.9 154.3,1614.9 159.3,1614.8 164.3,1614.8 169.3,1614.9 174.3,1615.0 179.3,1615.1 184.3,1615.3 189.3,1615.5 194.3,1615.7 199.3,1616.0 204.3,1616.3 209.3,1616.7 214.3,1617.1 219.3,1617.5 224.3,1618.0 229.3,1618.5 234.3,1619.1 239.3,1619.7 244.3,1620.4 249.3,1621.1 254.3,1621.8 259.3,1622.6 264.3,1623.4 269.3,1624.3 274.3,1625.2 279.3,1626.2 284.3,1627.2 289.3,1628.2 294.3,1629.3 299.3,1630.5 304.3,1631.6 309.3,1632.9 314.3,1634.1 319.3,1635.5 324.3,1636.8 329.3,1638.2 334.3,1639.7 339.3,1641.2 344.3,1642.8 349.3,1644.4 354.3,1646.0 359.3,1647.7 364.3,1649.5 369.3,1651.3 374.3,1653.1 379.3,1655.0 384.3,1656.9 389.3,1658.9 394.3,1661.0 399.3,1663.1 404.3,1665.2 409.3,1667.4 414.3,1669.7 419.3,1672.0 424.3,1674.3 429.3,1676.7 434.3,1679.1 439.3,1681.5 444.3,1684.0 449.3,1686.5 454.3,1689.1 459.3,1691.7 464.3,1694.3 469.3,1696.9 474.3,1699.5 479.3,1702.2 484.3,1704.8 489.3,1707.5 494.3,1710.2 499.3,1712.9 504.3,1715.5 509.3,1718.2 514.3,1720.9 519.3,1723.6 524.3,1726.3 529.3,1728.9 534.3,1731.5 539.3,1734.2 544.3,1736.8 549.3,1739.4 554.3,1741.9 559.3,1744.5 564.3,1747.0 569.3,1749.4 574.3,1751.9 579.3,1754.3 584.3,1756.6 589.3,1758.9 594.3,1761.2 599.3,1763.4 604.3,1765.6 609.3,1767.7 614.3,1769.8 619.3,1771.8 624.3,1773.7 629.3,1775.6 634.3,1777.4 639.3,1779.2 644.3,1780.9 649.3,1782.6 654.3,1784.3 659.3,1785.9 664.3,1787.4 669.3,1788.9 674.3,1790.4 679.3,1791.9 684.3,1793.3 689.3,1794.6 694.3,1795.9 699.3,1797.2 704.3,1798.5 709.3,1799.8 714.3,1801.0 719.3,1802.2 724.3,1803.3 729.3,1804.5 734.3,1805.6 739.3,1806.7 744.3,1807.8 749.3,1808.9 754.3,1809.9 759.3,1811.0 764.3,1812.0 769.3,1813.0 774.3,1814.1 779.3,1815.1 784.3,1816.1 789.3,1817.1 794.3,1818.1 799.3,1819.1 804.3,1820.1 809.3,1821.1 814.3,1822.2 819.3,1823.2 824.3,1824.2 829.3,1825.2 834.3,1826.2 839.3,1827.2 844.3,1828.2 849.3,1829.1 854.3,1830.1 859.3,1831.1 864.3,1832.0 869.3,1832.9 874.3,1833.9 879.3,1834.8 884.3,1835.6 889.3,1836.5 894.3,1837.4 899.3,1838.2 904.3,1839.0 909.3,1839.8 914.3,1840.6 919.3,1841.3 924.3,1842.0 929.3,1842.7 934.3,1843.4 939.3,1844.0 944.3,1844.6 949.3,1845.2 954.3,1845.7 959.3,1846.2 964.3,1846.7 969.3,1847.2 974.3,1847.6 979.3,1847.9 984.3,1848.3 989.3,1848.5 994.3,1848.8 999.3,1849.0" fill="none" stroke="#0000ff" stroke-width="5.3" stroke-linejoin="round" stroke-linecap="round" />
<polyline points="124.3,1613.2 129.3,1613.4 134.3,1613.5 139.3,1613.7 144.3,1613.8 149.3,1614.0 154.3,1614.2 159.3,1614.5 164.3,1614.7 169.3,1614.9 174.3,1615.2 179.3,1615.5 184.3,1615.7 189.3,1616.0 194.3,1616.3 199.3,1616.6 204.3,1616.9 209.3,1617.3 214.3,1617.6 219.3,1617.9 224.3,1618.2 229.3,1618.6 234.3,1618.9 239.3,1619.3 244.3,1619.6 249.3,1620.0 254.3,1620.3 259.3,1620.7 264.3,1621.0 269.3,1621.4 274.3,1621.7 279.3,1622.1 284.3,1622.4 289.3,1622.7 294.3,1623.1 299.3,1623.4 304.3,1623.7 309.3,1624.0 314.3,1624.3 319.3,1624.6 324.3,1624.9 329.3,1625.2 334.3,1625.4 339.3,1625.7 344.3,1625.9 349.3,1626.2 354.3,1626.4 359.3,1626.6 364.3,1626.7 369.3,1626.6 374.3,1626.4 379.3,1625.8 384.3,1624.9 389.3,1623.6 394.3,1621.8 399.3,1619.5 404.3,1616.5 409.3,1613.0 414.3,1609.0 419.3,1604.7 424.3,1600.0 429.3,1595.2 434.3,1590.3 439.3,1585.5 444.3,1580.8 449.3,1576.3 454.3,1572.1 459.3,1568.4 464.3,1565.3 469.3,1562.7 474.3,1560.9 479.3,1560.0 484.3,1560.0 489.3,1561.1 494.3,1563.3 499.3,1566.7 504.3,1571.5 509.3,1577.5 514.3,1584.5 519.3,1592.6 524.3,1601.5 529.3,1611.1 534.3,1621.4 539.3,1632.2 544.3,1643.3 549.3,1654.5 554.3,1665.7 559.3,1676.6 564.3,1686.9 569.3,1696.6 574.3,1705.5 579.3,1713.8 584.3,1721.5 589.3,1728.5 594.3,1735.1 599.3,1741.2 604.3,1746.8 609.3,1752.0 614.3,1756.9 619.3,1761.5 624.3,1765.6 629.3,1769.5 634.3,1772.9 639.3,1775.9 644.3,1778.5 649.3,1780.7 654.3,1782.5 659.3,1783.8 664.3,1784.6 669.3,1785.0 674.3,1784.9 679.3,1784.3 684.3,1783.1 689.3,1781.5 694.3,1779.3 699.3,1776.5 704.3,1773.2 709.3,1769.4 714.3,1764.9 719.3,1759.8 724.3,1754.2 729.3,1747.9 734.3,1740.9 739.3,1733.4 744.3,1725.1 749.3,1716.2 754.3,1706.7 759.3,1696.4 764.3,1685.4 769.3,1673.8 774.3,1661.6 779.3,1649.1 784.3,1636.6 789.3,1624.4 794.3,1612.7 799.3,1601.7 804.3,1591.8 809.3,1583.2 814.3,1575.8 819.3,1570.0 824.3,1565.7 829.3,1563.1 834.3,1562.3 839.3,1563.4 844.3,1566.5 849.3,1571.6 854.3,1578.7 859.3,1587.5 864.3,1597.8 869.3,1609.2 874.3,1621.7 879.3,1634.9 884.3,1648.7 889.3,1662.9 894.3,1677.4 899.3,1692.1 904.3,1706.7 909.3,1721.1 914.3,1735.2 919.3,1748.9 924.3,1762.0 929.3,1774.3 934.3,1785.7 939.3,1796.1 944.3,1805.3 949.3,1813.3 954.3,1820.0 959.3,1825.8 964.3,1830.5 969.3,1834.4 974.3,1837.5 979.3,1839.9 984.3,1841.8 989.3,1843.1 994.3,1844.1 999.3,1844.7" fill="none" stroke="#0000ff" stroke-width="5.3" stroke-linejoin="round" stroke-linecap="round" />
<polyline points="123.7,1608.5 128.7,1608.0 133.7,1607.4 138.7,1606.9 143.7,1606.3 148.7,1605.6 153.7,1604.8 158.7,1604.0 163.7,1603.0 168.7,1602.0 173.7,1600.7 178.7,1599.4 183.7,1597.8 188.7,1596.1 193.7,1594.2 198.8,1592.0 203.8,1589.7 208.8,1587.1 213.8,1584.2 218.8,1581.1 223.8,1577.7 228.8,1573.9 233.8,1569.9 238.8,1565.6 243.8,1560.9 248.8,1555.8 253.8,1550.5 258.8,1544.8 263.8,1538.9 268.8,1532.6 273.8,1526.1 278.8,1519.3 283.8,1512.2 288.8,1504.9 293.8,1497.4 298.8,1489.6 303.8,1481.8 308.8,1474.0 313.8,1466.3 318.8,1458.9 323.8,1451.8 328.8,1445.1 333.8,1438.9 338.9,1433.2 343.9,1428.1 348.9,1423.6 353.9,1419.8 358.9,1416.8 363.9,1414.6 368.9,1413.4 373.9,1413.0 378.9,1413.5 383.9,1415.0 388.9,1417.2 393.9,1420.3 398.9,1424.2 403.9,1428.9 408.9,1434.3 413.9,1440.5 418.9,1447.4 423.9,1454.9 428.9,1463.1 433.9,1471.8 438.9,1481.0 443.9,1490.6 448.9,1500.6 453.9,1510.8 458.9,1521.3 463.9,1531.8 468.9,1542.4 473.9,1553.0 478.9,1563.5 484.0,1573.9 489.0,1584.0 494.0,1593.9 499.0,1603.5 504.0,1612.9 509.0,1622.0 514.0,1630.9 519.0,1639.5 524.0,1647.9 529.0,1656.1 534.0,1664.0 539.0,1671.7 544.0,1679.1 549.0,1686.3 554.0,1693.3 559.0,1700.0 564.0,1706.6 569.0,1712.8 574.0,1718.9 579.0,1724.7 584.0,1730.4 589.0,1735.8 594.0,1740.9 599.0,1745.9 604.0,1750.6 609.0,1755.2 614.0,1759.5 619.0,1763.6 624.1,1767.4 629.1,1770.8 634.1,1773.9 639.1,1776.6 644.1,1778.8 649.1,1780.7 654.1,1782.3 659.1,1783.7 664.1,1785.0 669.1,1786.2 674.1,1787.4 679.1,1788.6 684.1,1789.8 689.1,1791.0 694.1,1792.1 699.1,1793.3 704.1,1794.5 709.1,1795.6 714.1,1796.8 719.1,1797.9 724.1,1799.1 729.1,1800.3 734.1,1801.4 739.1,1802.6 744.1,1803.8 749.1,1805.0 754.1,1806.2 759.1,1807.5 764.1,1808.7 769.2,1809.9 774.2,1811.1 779.2,1812.4 784.2,1813.6 789.2,1814.9 794.2,1816.1 799.2,1817.3 804.2,1818.5 809.2,1819.8 814.2,1821.0 819.2,1822.2 824.2,1823.4 829.2,1824.5 834.2,1825.7 839.2,1826.9 844.2,1828.0 849.2,1829.1 854.2,1830.2 859.2,1831.3 864.2,1832.3 869.2,1833.3 874.2,1834.3 879.2,1835.3 884.2,1836.3 889.2,1837.2 894.2,1838.1 899.2,1838.9 904.2,1839.7 909.3,1840.5 914.3,1841.2 919.3,1841.9 924.3,1842.6 929.3,1843.2 934.3,1843.8 939.3,1844.3 944.3,1844.8 949.3,1845.3 954.3,1845.7 959.3,1846.0 964.3,1846.3 969.3,1846.5 974.3,1846.7 979.3,1846.8 984.3,1846.9 989.3,1846.9 994.3,1846.8 999.3,1846.7" fill="none" stroke="#ff00ff" stroke-width="5.3" stroke-linejoin="round" stroke-linecap="round" />
<polyline points="124.3,1609.8 129.3,1608.8 134.3,1607.9 139.3,1607.1 144.3,1606.4 149.3,1605.8 154.3,1605.3 159.3,1604.9 164.3,1604.6 169.3,1604.4 174.3,1604.3 179.3,1604.2 184.3,1604.2 189.3,1604.3 194.3,1604.4 199.3,1604.6 204.3,1604.8 209.3,1605.1 214.3,1605.4 219.3,1605.7 224.3,1606.0 229.3,1606.4 234.3,1606.8 239.3,1607.1 244.3,1607.5 249.3,1607.9 254.3,1608.2 259.3,1608.5 264.3,1608.8 269.3,1609.1 274.3,1609.3 279.3,1609.5 284.3,1609.7 289.3,1609.8 294.3,1609.8 299.3,1609.8 304.3,1609.7 309.3,1609.5 314.3,1609.3 319.3,1609.0 324.3,1608.5 329.3,1608.0 334.3,1607.4 339.3,1606.6 344.3,1605.7 349.3,1604.7 354.3,1603.6 359.3,1602.2 364.3,1600.6 369.3,1598.8 374.3,1596.7 379.3,1594.3 384.3,1591.6 389.3,1588.5 394.3,1585.0 399.3,1581.2 404.3,1576.8 409.3,1571.9 414.3,1566.4 419.3,1560.3 424.3,1553.5 429.3,1545.9 434.3,1537.5 439.3,1528.3 444.3,1518.2 449.3,1507.2 454.3,1495.4 459.3,1483.1 464.3,1470.4 469.3,1457.3 474.3,1444.1 479.3,1430.8 484.3,1417.5 489.3,1404.5 494.3,1391.6 499.3,1379.1 504.3,1367.1 509.3,1355.7 514.3,1344.9 519.3,1334.9 524.3,1325.8 529.3,1317.7 534.3,1310.7 539.3,1304.9 544.3,1300.4 549.3,1297.3 554.3,1295.7 559.3,1295.6 564.3,1297.1 569.3,1300.3 574.3,1305.2 579.3,1311.8 584.3,1320.0 589.3,1329.6 594.3,1340.6 599.3,1352.6 604.3,1365.6 609.3,1379.5 614.3,1394.1 619.3,1409.2 624.3,1424.7 629.3,1440.6 634.3,1456.8 639.3,1473.7 644.3,1491.3 649.3,1509.5 654.3,1527.7 659.3,1545.2 664.3,1562.1 669.3,1578.2 674.3,1593.5 679.3,1608.1 684.3,1621.9 689.3,1634.9 694.3,1647.2 699.3,1658.8 704.3,1669.8 709.3,1680.1 714.3,1689.9 719.3,1699.0 724.3,1707.6 729.3,1715.7 734.3,1723.4 739.3,1730.5 744.3,1737.3 749.3,1743.7 754.3,1749.7 759.3,1755.3 764.3,1760.7 769.3,1765.7 774.3,1770.4 779.3,1774.8 784.3,1779.0 789.3,1782.9 794.3,1786.6 799.3,1790.1 804.3,1793.4 809.3,1796.5 814.3,1799.5 819.3,1802.3 824.3,1805.1 829.3,1807.7 834.3,1810.2 839.3,1812.6 844.3,1814.9 849.3,1817.1 854.3,1819.3 859.3,1821.3 864.3,1823.2 869.3,1825.1 874.3,1826.8 879.3,1828.5 884.3,1830.1 889.3,1831.6 894.3,1833.0 899.3,1834.3 904.3,1835.6 909.3,1836.7 914.3,1837.8 919.3,1838.8 924.3,1839.7 929.3,1840.6 934.3,1841.4 939.3,1842.1 944.3,1842.7 949.3,1843.3 954.3,1843.8 959.3,1844.2 964.3,1844.6 969.3,1844.9 974.3,1845.1 979.3,1845.3 984.3,1845.4 989.3,1845.4 994.3,1845.4 999.3,1845.4" fill="none" stroke="#ff00ff" stroke-width="5.3" stroke-linejoin="round" stroke-linecap="round" />
<polyline points="124.3,1599.7 129.3,1599.5 134.3,1599.1 139.4,1598.6 144.4,1597.9 149.4,1597.1 154.4,1596.1 159.4,1594.9 164.5,1593.6 169.5,1592.1 174.5,1590.4 179.5,1588.5 184.6,1586.4 189.6,1584.1 194.6,1581.6 199.6,1578.9 204.6,1576.0 209.7,1572.9 214.7,1569.5 219.7,1565.9 224.7,1562.0 229.7,1558.0 234.8,1553.6 239.8,1549.0 244.8,1544.2 249.8,1539.1 254.9,1533.7 259.9,1528.0 264.9,1522.0 269.9,1515.8 274.9,1509.3 280.0,1502.4 285.0,1495.3 290.0,1487.8 295.0,1480.1 300.0,1472.0 305.1,1463.7 310.1,1455.2 315.1,1446.5 320.1,1437.7 325.1,1428.8 330.2,1419.8 335.2,1410.9 340.2,1402.0 345.2,1393.3 350.3,1384.6 355.3,1376.2 360.3,1367.9 365.3,1360.0 370.3,1352.3 375.4,1345.1 380.4,1338.1 385.4,1331.4 390.4,1325.0 395.4,1318.7 400.5,1312.4 405.5,1306.3 410.5,1300.0 415.5,1293.7 420.6,1287.2 425.6,1280.5 430.6,1273.5 435.6,1266.2 440.6,1258.4 445.7,1250.1 450.7,1241.4 455.7,1232.2 460.7,1222.9 465.7,1213.5 470.8,1204.3 475.8,1195.3 480.8,1186.9 485.8,1179.2 490.9,1172.3 495.9,1166.5 500.9,1161.8 505.9,1158.5 510.9,1156.5 516.0,1155.8 521.0,1156.4 526.0,1158.3 531.0,1161.5 536.0,1165.9 541.1,1171.6 546.1,1178.5 551.1,1186.6 556.1,1195.9 561.1,1206.3 566.2,1217.7 571.2,1230.2 576.2,1243.6 581.2,1258.0 586.3,1273.3 591.3,1289.4 596.3,1306.3 601.3,1323.7 606.3,1341.7 611.4,1360.2 616.4,1378.9 621.4,1397.7 626.4,1416.7 631.4,1435.7 636.5,1454.6 641.5,1473.4 646.5,1492.2 651.5,1511.0 656.6,1529.7 661.6,1547.7 666.6,1564.7 671.6,1580.0 676.6,1593.9 681.7,1606.5 686.7,1617.9 691.7,1628.0 696.7,1636.9 701.7,1644.5 706.8,1650.9 711.8,1656.1 716.8,1660.1 721.8,1662.8 726.8,1664.3 731.9,1664.6 736.9,1663.6 741.9,1661.5 746.9,1658.3 752.0,1654.0 757.0,1648.8 762.0,1642.7 767.0,1635.8 772.0,1628.0 777.1,1619.6 782.1,1610.6 787.1,1600.9 792.1,1590.9 797.1,1580.9 802.2,1571.3 807.2,1562.3 812.2,1554.3 817.2,1547.7 822.3,1542.8 827.3,1540.0 832.3,1539.2 837.3,1540.4 842.3,1543.5 847.4,1548.2 852.4,1554.6 857.4,1562.4 862.4,1571.5 867.4,1581.9 872.5,1593.3 877.5,1605.7 882.5,1618.9 887.5,1632.9 892.5,1647.4 897.6,1662.4 902.6,1677.8 907.6,1693.3 912.6,1708.9 917.7,1724.3 922.7,1739.3 927.7,1753.8 932.7,1767.4 937.7,1780.1 942.8,1791.6 947.8,1801.7 952.8,1810.2 957.8,1816.9 962.8,1821.9 967.9,1825.5 972.9,1828.0 977.9,1829.7 982.9,1831.1 988.0,1832.5 993.0,1834.1 998.0,1836.4" fill="none" stroke="#ff0000" stroke-width="5.3" stroke-linejoin="round" stroke-linecap="round" />
<rect x="101.0" y="1048.0" width="947.5" height="825.0" fill="none" stroke="#000" stroke-width="5.8"/>
<line x1="161.2" y1="1048.0" x2="161.2" y2="1062.4" stroke="#000" stroke-width="5.5" /><line x1="161.2" y1="1873.0" x2="161.2" y2="1887.7" stroke="#000" stroke-width="5.5" /><line x1="279.8" y1="1048.0" x2="279.8" y2="1062.4" stroke="#000" stroke-width="5.5" /><line x1="279.8" y1="1873.0" x2="279.8" y2="1887.7" stroke="#000" stroke-width="5.5" /><line x1="398.4" y1="1048.0" x2="398.4" y2="1062.4" stroke="#000" stroke-width="5.5" /><line x1="398.4" y1="1873.0" x2="398.4" y2="1887.7" stroke="#000" stroke-width="5.5" /><line x1="517.0" y1="1048.0" x2="517.0" y2="1062.4" stroke="#000" stroke-width="5.5" /><line x1="517.0" y1="1873.0" x2="517.0" y2="1887.7" stroke="#000" stroke-width="5.5" /><line x1="635.6" y1="1048.0" x2="635.6" y2="1062.4" stroke="#000" stroke-width="5.5" /><line x1="635.6" y1="1873.0" x2="635.6" y2="1887.7" stroke="#000" stroke-width="5.5" /><line x1="754.2" y1="1048.0" x2="754.2" y2="1062.4" stroke="#000" stroke-width="5.5" /><line x1="754.2" y1="1873.0" x2="754.2" y2="1887.7" stroke="#000" stroke-width="5.5" /><line x1="872.8" y1="1048.0" x2="872.8" y2="1062.4" stroke="#000" stroke-width="5.5" /><line x1="872.8" y1="1873.0" x2="872.8" y2="1887.7" stroke="#000" stroke-width="5.5" /><line x1="991.4" y1="1048.0" x2="991.4" y2="1062.4" stroke="#000" stroke-width="5.5" /><line x1="991.4" y1="1873.0" x2="991.4" y2="1887.7" stroke="#000" stroke-width="5.5" /><line x1="101.0" y1="1048.0" x2="101.0" y2="1056.4" stroke="#000" stroke-width="5.5" /><line x1="101.0" y1="1873.0" x2="101.0" y2="1879.5" stroke="#000" stroke-width="5.5" /><line x1="220.5" y1="1048.0" x2="220.5" y2="1056.4" stroke="#000" stroke-width="5.5" /><line x1="220.5" y1="1873.0" x2="220.5" y2="1879.5" stroke="#000" stroke-width="5.5" /><line x1="339.1" y1="1048.0" x2="339.1" y2="1056.4" stroke="#000" stroke-width="5.5" /><line x1="339.1" y1="1873.0" x2="339.1" y2="1879.5" stroke="#000" stroke-width="5.5" /><line x1="457.7" y1="1048.0" x2="457.7" y2="1056.4" stroke="#000" stroke-width="5.5" /><line x1="457.7" y1="1873.0" x2="457.7" y2="1879.5" stroke="#000" stroke-width="5.5" /><line x1="576.3" y1="1048.0" x2="576.3" y2="1056.4" stroke="#000" stroke-width="5.5" /><line x1="576.3" y1="1873.0" x2="576.3" y2="1879.5" stroke="#000" stroke-width="5.5" /><line x1="694.9" y1="1048.0" x2="694.9" y2="1056.4" stroke="#000" stroke-width="5.5" /><line x1="694.9" y1="1873.0" x2="694.9" y2="1879.5" stroke="#000" stroke-width="5.5" /><line x1="813.5" y1="1048.0" x2="813.5" y2="1056.4" stroke="#000" stroke-width="5.5" /><line x1="813.5" y1="1873.0" x2="813.5" y2="1879.5" stroke="#000" stroke-width="5.5" /><line x1="932.1" y1="1048.0" x2="932.1" y2="1056.4" stroke="#000" stroke-width="5.5" /><line x1="932.1" y1="1873.0" x2="932.1" y2="1879.5" stroke="#000" stroke-width="5.5" /><line x1="1048.5" y1="1048.0" x2="1048.5" y2="1056.4" stroke="#000" stroke-width="5.5" /><line x1="1048.5" y1="1873.0" x2="1048.5" y2="1879.5" stroke="#000" stroke-width="5.5" />
<text transform="translate(140.9,1951.3) scale(1,1.040)" font-size="56.0" fill="#111" >94</text>
<text transform="translate(260.5,1951.3) scale(1,1.040)" font-size="56.0" fill="#111" >92</text>
<text transform="translate(379.1,1951.3) scale(1,1.040)" font-size="56.0" fill="#111" >90</text>
<text transform="translate(498.4,1951.3) scale(1,1.040)" font-size="56.0" fill="#111" >88</text>
<text transform="translate(617.4,1951.3) scale(1,1.040)" font-size="56.0" fill="#111" >86</text>
<text transform="translate(736.0,1951.3) scale(1,1.040)" font-size="56.0" fill="#111" >84</text>
<text transform="translate(855.6,1951.3) scale(1,1.040)" font-size="56.0" fill="#111" >82</text>
<text transform="translate(974.3,1951.3) scale(1,1.040)" font-size="56.0" fill="#111" >80</text>
<text transform="translate(371.7,2014.5) scale(1,1.060)" font-size="54.2" fill="#111" >Binding energy (eV)</text>
<text transform="translate(72.0,1444.5) rotate(-90)" x="-164.4" y="0" font-size="54.0" fill="#111" >Intensity (a.u)</text>
<text x="149.4" y="1170.0" font-size="85.0" fill="#000" >(c)</text>
<text x="669.8" y="1147.8" font-size="55.0" fill="#111" >Mn3s-Zn3p</text>
<text x="291.0" y="1541.5" font-size="47" fill="#ff00ff" >Zn3p<tspan font-size="31" dy="10">1/2</tspan></text>
<text x="470.4" y="1476.8" font-size="44" fill="#ff00ff" >Zn3p<tspan font-size="29" dy="9">3/2</tspan></text>
<text x="663.2" y="1511.4" font-size="54.5" fill="#0000ff" >5.8 eV</text>
<text x="592.3" y="1739.5" font-size="54.0" fill="#0000ff" >Mn3s</text>
<text x="471.9" y="1829.0" font-size="53.8" fill="#0000ff" >Multiplet splitting</text>
</g>
<g id="pd">
<path d="M1153.7,1718.8C1156.4,1719.0 1165.2,1719.0 1169.6,1720.1C1174.0,1721.2 1175.7,1724.2 1180.1,1725.4C1184.5,1726.6 1188.9,1727.0 1196.0,1727.5C1203.0,1728.0 1213.6,1728.7 1222.3,1728.5C1231.1,1728.4 1240.8,1727.7 1248.7,1726.7C1256.6,1725.7 1263.2,1724.3 1269.8,1722.7C1276.4,1721.2 1280.8,1720.8 1288.3,1717.5C1295.8,1714.2 1306.8,1708.7 1314.7,1703.0C1322.6,1697.2 1329.2,1690.4 1335.8,1683.2C1342.4,1675.9 1349.0,1666.5 1354.3,1659.4C1359.6,1652.4 1363.1,1646.4 1367.5,1640.9C1371.9,1635.5 1376.3,1630.2 1380.7,1626.4C1385.1,1622.7 1390.1,1620.1 1393.9,1618.5C1397.6,1617.0 1400.2,1616.8 1403.1,1617.2C1405.9,1617.6 1408.1,1618.5 1411.0,1621.2C1413.9,1623.8 1417.4,1630.0 1420.2,1633.0C1423.1,1636.1 1425.1,1635.2 1428.2,1639.6C1431.2,1644.0 1435.6,1653.9 1438.7,1659.4C1441.8,1664.9 1443.1,1666.0 1446.6,1672.6C1450.1,1679.2 1455.0,1690.0 1459.8,1699.0C1464.7,1708.0 1469.9,1718.3 1475.6,1726.7C1481.4,1735.1 1489.3,1744.5 1494.1,1749.1C1499.0,1753.7 1500.7,1752.0 1504.7,1754.4C1508.6,1756.8 1512.6,1760.8 1517.9,1763.6C1523.1,1766.5 1529.7,1768.5 1536.3,1771.6C1542.9,1774.6 1550.4,1780.1 1557.4,1782.1C1564.5,1784.1 1572.8,1783.0 1578.5,1783.4C1584.3,1783.9 1587.3,1785.0 1591.7,1784.7C1596.1,1784.5 1600.1,1782.6 1604.9,1782.1C1609.8,1781.7 1615.5,1783.0 1620.8,1782.1C1626.0,1781.2 1631.7,1778.4 1636.6,1776.8C1641.5,1775.3 1644.8,1774.9 1650.1,1772.9C1655.5,1770.9 1662.4,1768.0 1668.6,1765.0C1674.8,1761.9 1680.9,1758.4 1687.1,1754.4C1693.2,1750.4 1699.4,1746.1 1705.5,1741.2C1711.7,1736.4 1718.3,1731.5 1724.0,1725.4C1729.7,1719.2 1734.6,1711.8 1739.8,1704.3C1745.1,1696.8 1750.8,1688.9 1755.7,1680.5C1760.5,1672.2 1764.5,1663.8 1768.9,1654.1C1773.3,1644.5 1777.7,1633.5 1782.1,1622.5C1786.5,1611.5 1791.3,1597.4 1795.3,1588.2C1799.2,1578.9 1802.3,1573.0 1805.8,1567.1C1809.3,1561.1 1812.6,1556.1 1816.4,1552.6C1820.1,1549.0 1824.3,1546.4 1828.2,1546.0C1832.2,1545.5 1835.9,1547.7 1840.1,1549.9C1844.3,1552.1 1849.3,1553.7 1853.3,1559.2C1857.3,1564.7 1860.8,1573.7 1863.9,1582.9C1866.9,1592.1 1869.1,1600.9 1871.8,1614.6C1874.4,1628.2 1877.0,1648.4 1879.7,1664.7C1882.3,1681.0 1885.0,1697.7 1887.6,1712.2C1890.2,1726.7 1892.9,1739.5 1895.5,1751.8C1898.2,1764.1 1900.4,1775.1 1903.4,1786.1C1906.5,1797.1 1910.5,1808.9 1914.0,1817.7C1917.5,1826.5 1920.6,1832.9 1924.5,1838.8C1928.5,1844.8 1932.9,1849.2 1937.7,1853.4C1942.6,1857.5 1947.4,1860.7 1953.6,1863.9C1959.7,1867.1 1967.6,1870.6 1974.7,1872.5C1981.7,1874.4 1987.9,1874.9 1995.8,1875.5C2003.7,1876.1 2013.4,1876.2 2022.2,1876.0C2031.0,1875.7 2039.8,1874.8 2048.5,1874.0C2057.3,1873.3 2070.5,1871.9 2074.9,1871.5" fill="none" stroke="#4a4a4a" stroke-width="5.0" stroke-linejoin="round" stroke-linecap="round" />
<polyline points="1155.1,1536.7 1160.3,1539.4 1165.6,1528.8 1170.9,1535.4 1178.8,1540.7 1185.4,1535.4 1192.0,1532.8 1198.6,1538.0 1206.5,1541.2 1211.8,1535.4 1225.0,1544.6 1234.2,1540.7 1238.7,1532.8 1243.5,1536.7 1247.4,1535.9 1252.7,1544.6 1257.2,1542.8 1261.9,1546.0 1271.2,1538.0 1275.1,1544.6 1283.0,1538.0 1290.9,1542.0 1302.8,1540.7 1308.1,1543.9 1320.0,1535.9 1326.6,1535.4 1331.1,1541.2 1335.8,1530.1 1341.1,1528.8 1346.4,1525.4 1354.3,1522.2 1359.0,1523.5 1363.5,1513.8 1370.1,1510.3 1380.7,1498.5 1393.9,1482.6 1396.5,1480.6 1407.0,1471.4 1418.1,1464.0 1421.6,1474.0 1436.1,1474.0 1442.7,1484.6 1450.6,1484.0 1458.5,1491.9 1465.1,1505.1 1480.9,1530.1 1488.8,1544.6 1499.4,1559.2 1509.9,1572.3 1516.5,1580.3 1525.8,1585.5 1531.1,1586.9 1533.7,1593.5 1539.0,1589.5 1545.6,1597.4 1552.2,1604.0 1557.4,1600.1 1565.4,1605.3 1575.9,1610.6 1581.2,1604.0 1585.1,1606.6 1599.7,1597.4 1607.6,1604.0 1612.8,1596.1 1616.8,1598.7 1628.7,1592.1 1635.3,1592.9 1641.9,1588.2 1650.1,1586.9 1659.4,1584.2 1664.6,1579.7 1672.6,1588.2 1677.8,1579.7 1683.1,1583.4 1689.7,1576.3 1696.3,1575.0 1700.8,1565.0 1705.5,1568.4 1718.7,1563.9 1728.0,1564.4 1733.2,1557.8 1738.5,1561.8 1750.4,1542.0 1758.3,1539.4 1766.2,1534.1 1774.1,1523.5 1779.4,1513.0 1784.7,1511.7 1792.6,1493.2 1795.3,1480.6 1800.5,1472.7 1807.1,1454.2 1816.4,1446.3 1821.6,1423.9 1829.6,1408.1 1834.8,1408.1 1838.8,1393.6 1844.1,1396.2 1852.0,1385.6 1859.9,1388.3 1863.9,1380.4 1871.8,1381.7 1878.4,1398.8 1885.0,1405.4 1890.2,1422.6 1896.8,1441.1 1903.4,1467.4 1912.7,1506.4 1919.3,1540.7 1924.5,1561.8 1929.8,1596.1 1935.1,1614.6 1943.0,1640.9 1947.0,1654.1 1953.6,1664.7 1961.5,1676.6 1969.4,1683.7 1981.3,1684.5 1986.5,1693.7 1991.8,1691.1 2003.7,1695.0 2009.5,1704.3 2019.5,1697.7 2027.4,1702.2 2036.7,1703.7 2044.6,1699.5 2053.8,1704.3 2064.4,1705.6 2074.9,1708.2" fill="none" stroke="#0000ff" stroke-width="5.3" stroke-linejoin="round" stroke-linecap="round" />
<polyline points="1155.1,1327.6 1160.3,1293.3 1169.6,1306.5 1174.9,1286.7 1182.8,1343.4 1189.4,1301.2 1198.1,1263.0 1203.9,1294.6 1209.2,1295.9 1217.1,1274.8 1225.5,1323.6 1231.6,1277.5 1238.7,1259.0 1248.7,1288.0 1254.0,1282.7 1257.2,1233.9 1263.2,1277.5 1272.5,1274.8 1276.4,1237.9 1280.4,1236.6 1289.6,1292.0 1296.2,1251.1 1301.5,1244.5 1309.4,1245.8 1312.6,1228.7 1317.9,1277.5 1322.6,1284.1 1326.6,1218.1 1331.1,1288.0 1335.8,1207.5 1341.1,1237.9 1346.4,1212.8 1351.6,1235.3 1359.0,1232.6 1363.5,1252.4 1368.8,1244.5 1374.1,1247.1 1382.0,1292.0 1387.3,1256.4 1391.2,1253.7 1395.2,1240.5 1400.4,1293.3 1405.2,1227.3 1410.2,1253.7 1414.4,1310.4 1418.9,1307.8 1423.4,1280.1 1430.8,1298.6 1437.4,1307.8 1442.7,1330.2 1447.9,1330.2 1451.9,1319.7 1459.8,1344.7 1465.1,1346.1 1469.8,1301.2 1474.3,1334.2 1478.3,1305.2 1483.6,1371.1 1492.8,1309.1 1498.1,1361.9 1502.0,1369.8 1508.6,1354.0 1516.5,1354.0 1520.5,1363.2 1525.3,1313.1 1529.7,1332.9 1534.5,1397.5 1539.0,1352.7 1543.7,1384.3 1549.0,1331.6 1553.5,1340.8 1558.0,1359.3 1562.2,1342.1 1566.7,1371.1 1575.9,1347.4 1585.1,1342.1 1594.4,1347.4 1599.7,1342.1 1604.0,1348.7 1607.9,1319.7 1613.2,1330.2 1617.2,1298.6 1622.4,1331.6 1626.4,1307.8 1631.1,1327.6 1635.6,1359.3 1640.9,1325.0 1645.4,1281.4 1650.1,1352.7 1654.9,1311.8 1659.4,1302.5 1663.3,1301.2 1668.6,1237.9 1673.4,1344.7 1677.0,1299.9 1681.8,1322.3 1686.5,1294.6 1691.0,1315.7 1695.5,1297.3 1699.7,1278.8 1705.0,1319.7 1709.5,1289.3 1714.0,1293.3 1722.7,1265.6 1728.5,1301.2 1733.2,1264.3 1738.5,1270.9 1742.5,1257.7 1747.0,1220.7 1751.7,1247.1 1756.2,1249.8 1760.9,1232.6 1764.9,1218.1 1770.2,1222.1 1774.7,1177.2 1779.4,1177.2 1784.2,1211.5 1788.7,1174.6 1793.1,1132.3 1797.9,1173.2 1804.5,1161.4 1811.1,1154.8 1816.4,1179.8 1820.3,1141.6 1824.3,1152.1 1830.1,1152.1 1834.8,1191.7 1838.8,1185.1 1844.1,1185.1 1848.5,1214.1 1853.3,1212.8 1857.3,1277.5 1861.7,1288.0 1866.5,1276.1 1872.3,1335.5 1877.0,1343.4 1881.8,1356.6 1885.8,1398.8 1889.7,1372.5 1895.0,1368.5 1899.5,1383.0 1904.0,1385.6 1908.7,1397.5 1914.0,1404.1 1917.9,1419.9 1921.4,1390.9 1926.6,1455.6 1931.7,1381.7 1936.4,1422.6 1940.9,1413.4 1945.6,1426.5 1954.9,1455.6 1960.2,1422.6 1965.4,1433.1 1973.4,1463.5 1977.8,1412.0 1982.6,1402.8 1987.1,1363.2 1991.8,1426.5 1995.8,1409.4 2000.5,1450.3 2005.0,1427.9 2010.3,1430.5 2014.8,1425.2 2019.5,1392.2 2024.3,1426.5 2028.8,1430.5 2034.0,1412.0 2040.6,1402.8 2047.2,1397.5 2051.7,1375.1 2056.5,1401.5 2060.4,1408.1 2065.7,1390.9 2071.0,1372.5 2074.9,1367.2" fill="none" stroke="#ff0000" stroke-width="5.3" stroke-linejoin="round" stroke-linecap="round" />
<line x1="1815.0" y1="1091.5" x2="1815.0" y2="1235.0" stroke="#000" stroke-width="5" stroke-dasharray="23.2 17.2"/>
<line x1="1863.9" y1="1335.5" x2="1863.9" y2="1478.0" stroke="#000" stroke-width="5" stroke-dasharray="23.2 17.2"/>
<line x1="1829.6" y1="1479.3" x2="1829.6" y2="1622.5" stroke="#000" stroke-width="5" stroke-dasharray="23.2 17.2"/>
<rect x="1153.0" y="1052.0" width="925.0" height="824.5" fill="none" stroke="#000" stroke-width="5.8"/>
<line x1="1153.0" y1="1052.0" x2="1153.0" y2="1065.0" stroke="#000" stroke-width="5.5" /><line x1="1153.0" y1="1876.5" x2="1153.0" y2="1891.6" stroke="#000" stroke-width="5.5" /><line x1="1337.7" y1="1052.0" x2="1337.7" y2="1065.0" stroke="#000" stroke-width="5.5" /><line x1="1337.7" y1="1876.5" x2="1337.7" y2="1891.6" stroke="#000" stroke-width="5.5" /><line x1="1522.4" y1="1052.0" x2="1522.4" y2="1065.0" stroke="#000" stroke-width="5.5" /><line x1="1522.4" y1="1876.5" x2="1522.4" y2="1891.6" stroke="#000" stroke-width="5.5" /><line x1="1707.1" y1="1052.0" x2="1707.1" y2="1065.0" stroke="#000" stroke-width="5.5" /><line x1="1707.1" y1="1876.5" x2="1707.1" y2="1891.6" stroke="#000" stroke-width="5.5" /><line x1="1891.8" y1="1052.0" x2="1891.8" y2="1065.0" stroke="#000" stroke-width="5.5" /><line x1="1891.8" y1="1876.5" x2="1891.8" y2="1891.6" stroke="#000" stroke-width="5.5" /><line x1="2078.0" y1="1052.0" x2="2078.0" y2="1065.0" stroke="#000" stroke-width="5.5" /><line x1="2078.0" y1="1876.5" x2="2078.0" y2="1891.6" stroke="#000" stroke-width="5.5" /><line x1="1245.3" y1="1052.0" x2="1245.3" y2="1059.0" stroke="#000" stroke-width="5.5" /><line x1="1245.3" y1="1876.5" x2="1245.3" y2="1883.7" stroke="#000" stroke-width="5.5" /><line x1="1430.0" y1="1052.0" x2="1430.0" y2="1059.0" stroke="#000" stroke-width="5.5" /><line x1="1430.0" y1="1876.5" x2="1430.0" y2="1883.7" stroke="#000" stroke-width="5.5" /><line x1="1614.8" y1="1052.0" x2="1614.8" y2="1059.0" stroke="#000" stroke-width="5.5" /><line x1="1614.8" y1="1876.5" x2="1614.8" y2="1883.7" stroke="#000" stroke-width="5.5" /><line x1="1799.4" y1="1052.0" x2="1799.4" y2="1059.0" stroke="#000" stroke-width="5.5" /><line x1="1799.4" y1="1876.5" x2="1799.4" y2="1883.7" stroke="#000" stroke-width="5.5" /><line x1="1984.1" y1="1052.0" x2="1984.1" y2="1059.0" stroke="#000" stroke-width="5.5" /><line x1="1984.1" y1="1876.5" x2="1984.1" y2="1883.7" stroke="#000" stroke-width="5.5" />
<text transform="translate(1124.3,1950.6) scale(1,1.020)" font-size="58.0" fill="#111" >660</text>
<text transform="translate(1309.5,1950.6) scale(1,1.020)" font-size="58.0" fill="#111" >655</text>
<text transform="translate(1494.5,1950.6) scale(1,1.020)" font-size="58.0" fill="#111" >650</text>
<text transform="translate(1679.7,1950.6) scale(1,1.020)" font-size="58.0" fill="#111" >645</text>
<text transform="translate(1864.7,1950.6) scale(1,1.020)" font-size="58.0" fill="#111" >640</text>
<text transform="translate(2049.9,1950.6) scale(1,1.020)" font-size="58.0" fill="#111" >635</text>
<text transform="translate(1446.9,2023.0) scale(1,1.060)" font-size="54.2" fill="#111" >Binding energy (eV)</text>
<text transform="translate(1103.2,1492.7) rotate(-90)" x="-159.4" y="0" font-size="48.0" fill="#3a3a3a" >Intensity (a. u.)</text>
<text x="1200.0" y="1157.0" font-size="85.0" fill="#000" >(d)</text>
<text x="1914.7" y="1141.0" font-size="54.5" fill="#111" >Mn2p</text>
<text x="1261.0" y="1221.5" font-size="51.0" fill="#ff0000" >3</text>
<text x="1260.8" y="1520.5" font-size="51.0" fill="#0000ff" >2</text>
<text x="1253.5" y="1713.0" font-size="51.0" fill="#222" >1</text>
</g></svg>
</body></html>
